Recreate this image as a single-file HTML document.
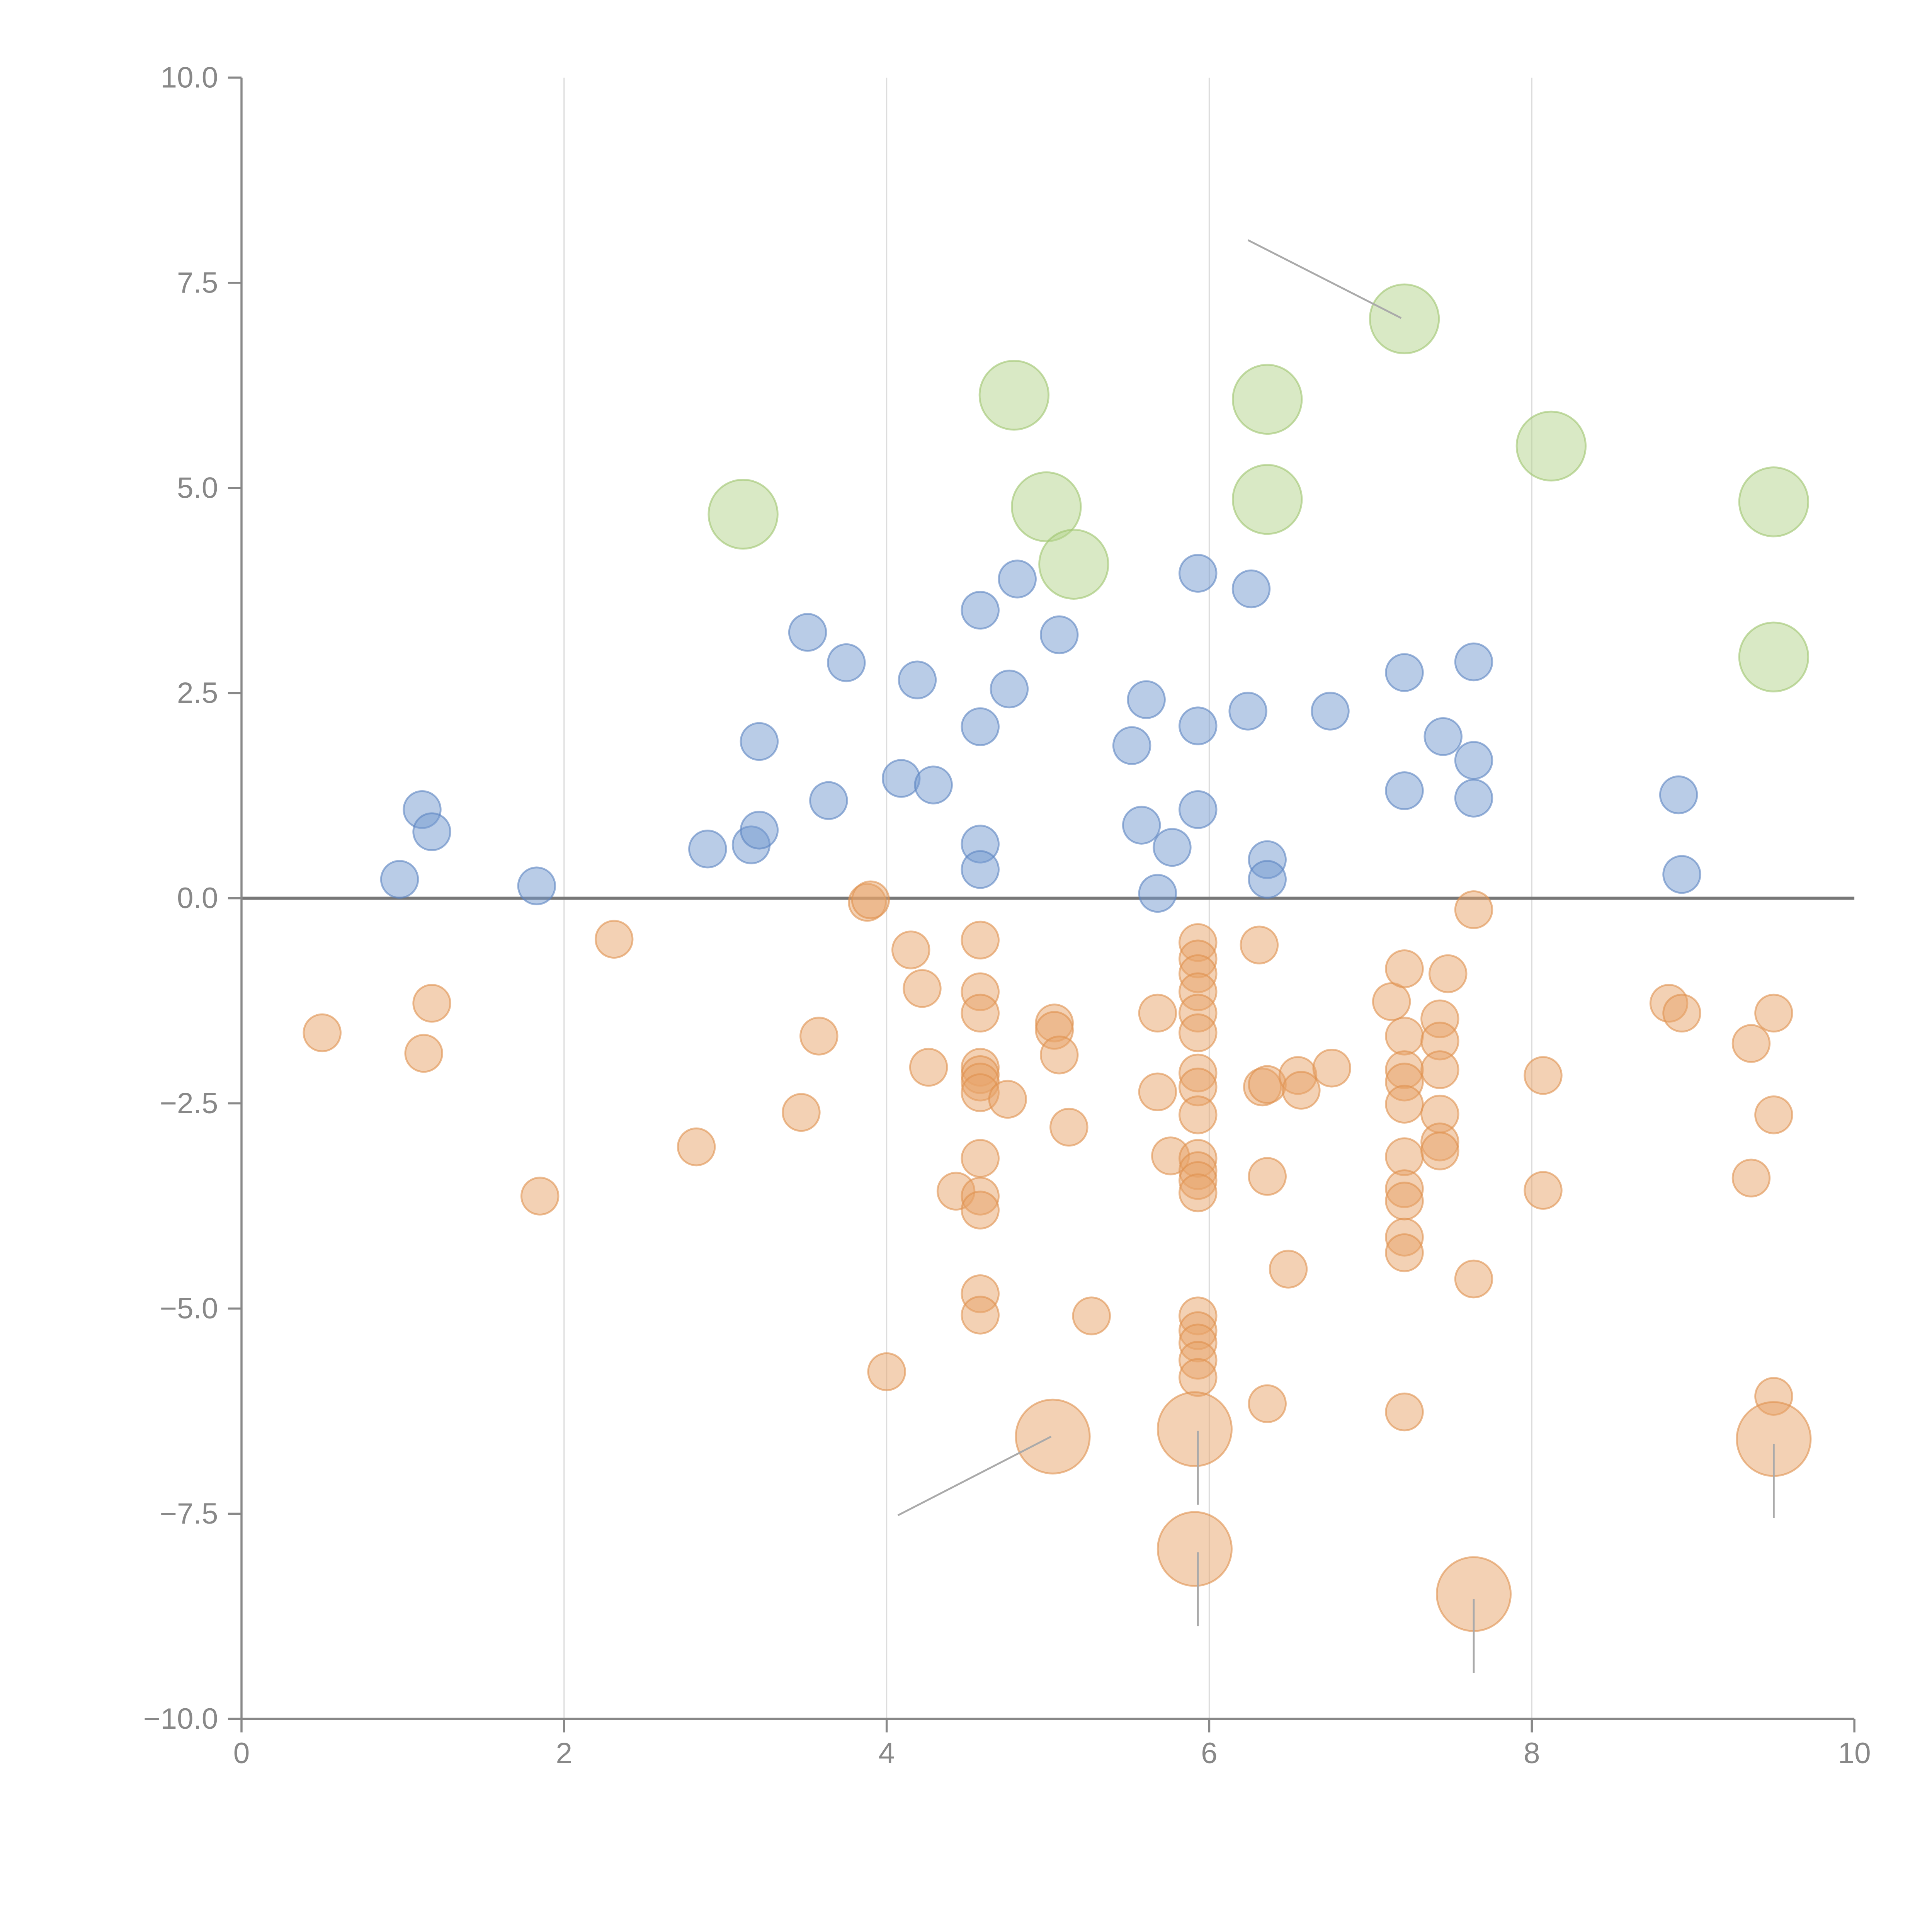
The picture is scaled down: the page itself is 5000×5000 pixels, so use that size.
<!DOCTYPE html>
<html><head><meta charset="utf-8"><style>html,body{margin:0;padding:0;background:#fff}svg{display:block}</style></head>
<body>
<svg id="chart" width="5000" height="5000" viewBox="0 0 1568 1568" xmlns="http://www.w3.org/2000/svg" font-family="Liberation Sans, sans-serif">
<g id="grid"></g>
<g id="axes"></g>
<g id="marks"></g>
</svg>
<script>
const xTicks=[0,2,4,6,8,10];
const yTicks=[10,7.5,5,2.5,0,-2.5,-5,-7.5,-10];
const yTickLabels=["10.0","7.5","5.0","2.5","0.0","\u22122.5","\u22125.0","\u22127.5","\u221210.0"];
const blueX=[0.98,1.12,1.18,1.83,2.89,3.16,3.21,3.21,3.51,3.64,3.75,4.09,4.19,4.29,4.58,4.58,4.58,4.58,4.76,4.81,5.07,5.52,5.58,5.61,5.68,5.77,5.93,5.93,5.93,6.24,6.26,6.36,6.36,6.75,7.21,7.21,7.45,7.64,7.64,7.64,8.91,8.93];
const blueY=[0.23,1.08,0.81,0.15,0.60,0.65,0.83,1.91,3.24,1.19,2.87,1.46,2.66,1.38,3.51,2.09,0.66,0.35,2.55,3.89,3.21,1.86,0.89,2.42,0.06,0.62,3.96,2.10,1.08,2.28,3.77,0.47,0.23,2.28,2.75,1.31,1.97,2.88,1.68,1.22,1.26,0.29];
const greenX=[3.11,4.79,4.99,5.16,6.36,6.36,7.21,8.12,9.50,9.50];
const greenY=[4.68,6.13,4.77,4.07,6.08,4.86,7.06,5.51,4.83,2.94];
const orangeX=[0.50,1.13,1.18,1.85,2.31,2.82,3.47,3.58,3.88,3.90,4.00,4.15,4.22,4.26,4.43,
4.58,4.58,4.58,4.58,4.58,4.58,4.58,4.58,4.58,4.58,4.58,4.58,
4.75,5.04,5.04,5.07,5.13,5.27,5.68,5.68,5.76,
5.93,5.93,5.93,5.93,5.93,5.93,5.93,5.93,5.93,5.93,5.93,5.93,5.93,5.93,5.93,5.93,5.93,5.93,
6.31,6.33,6.36,6.36,6.36,6.49,6.55,6.57,6.76,7.13,
7.21,7.21,7.21,7.21,7.21,7.21,7.21,7.21,7.21,7.21,7.21,
7.43,7.43,7.43,7.43,7.43,7.43,7.48,7.64,7.64,8.07,8.07,8.85,8.93,9.36,9.36,9.50,9.50,9.50];
const orangeY=[-1.64,-1.89,-1.28,-3.63,-0.50,-3.03,-2.61,-1.68,-0.05,-0.02,-5.77,-0.63,-1.10,-2.06,-3.57,
-0.51,-1.14,-1.40,-2.06,-2.15,-2.24,-2.37,-3.17,-3.63,-3.80,-4.82,-5.08,
-2.45,-1.52,-1.61,-1.91,-2.79,-5.09,-1.40,-2.36,-3.14,
-0.54,-0.74,-0.92,-1.14,-1.40,-1.64,-2.13,-2.30,-2.64,-3.17,-3.32,-3.44,-3.59,-5.09,-5.27,-5.42,-5.63,-5.84,
-0.57,-2.30,-2.27,-3.39,-6.16,-4.52,-2.16,-2.34,-2.07,-1.26,
-0.86,-1.68,-2.09,-2.24,-2.51,-3.15,-3.54,-3.69,-4.13,-4.32,-6.26,
-1.47,-1.74,-2.09,-2.63,-2.97,-3.08,-0.92,-0.14,-4.64,-2.16,-3.56,-1.28,-1.40,-1.77,-3.41,-1.40,-2.64,-6.07];
const bigOrangeX=[5.03,5.91,5.91,7.64,9.50];
const bigOrangeY=[-6.56,-6.47,-7.93,-8.48,-6.59];
const leaderX1=[6.24,4.07,5.93,5.93,7.64,9.50];
const leaderY1=[8.02,-7.52,-6.49,-7.97,-8.54,-6.65];
const leaderX2=[7.19,5.02,5.93,5.93,7.64,9.50];
const leaderY2=[7.07,-6.56,-7.39,-8.87,-9.44,-7.55];

const NS="http://www.w3.org/2000/svg";
const X=v=>196+(v-0)/10*1309;
const Y=v=>729-v/10*666;
function mk(t,p,a){const e=document.createElementNS(NS,t);for(const k in a)e.setAttribute(k,a[k]);p.appendChild(e);return e;}
const grid=document.getElementById('grid'),axes=document.getElementById('axes'),marks=document.getElementById('marks');
[2,4,6,8].forEach(v=>{const l=mk('line',grid,{x1:X(v),x2:X(v),y1:Y(10),y2:Y(-10),stroke:'#dddddd','stroke-width':1});

});
let z=mk('line',grid,{x1:X(0),x2:X(10),y1:Y(0),y2:Y(0),stroke:'#777','stroke-width':2.5});


let ya=mk('line',axes,{x1:X(0),x2:X(0),y1:Y(10),y2:Y(-10),stroke:'#888','stroke-width':1.7});


let xa=mk('line',axes,{x1:X(0),x2:X(10),y1:Y(-10),y2:Y(-10),stroke:'#888','stroke-width':1.7});


yTicks.forEach((v,i)=>{mk('line',axes,{x1:X(0)-11,x2:X(0),y1:Y(v),y2:Y(v),stroke:'#888','stroke-width':1.7});
const t=mk('text',axes,{x:X(0)-19,y:Y(v)+8,'text-anchor':'end','font-size':24,fill:'#888'});t.textContent=yTickLabels[i];

});
xTicks.forEach(v=>{mk('line',axes,{x1:X(v),x2:X(v),y1:Y(-10),y2:Y(-10)+11,stroke:'#888','stroke-width':1.7});
const t=mk('text',axes,{x:X(v),y:Y(-10)+36,'text-anchor':'middle','font-size':24,fill:'#888'});t.textContent=String(v);

});
function series(xs,ys,r,fill,stroke,name){xs.forEach((x,i)=>{const c=mk('circle',marks,{cx:X(x),cy:Y(ys[i]),r:r,fill:fill,'fill-opacity':0.5,stroke:stroke,'stroke-opacity':0.6,'stroke-width':1.5});

});}
series(blueX,blueY,15,'#7399cf','#5b84c2','blue-point');
series(orangeX,orangeY,15,'#e8a46a','#e0914f','orange-point');
series(greenX,greenY,28,'#b4d38c','#9fc46e','green-bubble');
series(bigOrangeX,bigOrangeY,30,'#e8a46a','#e0914f','orange-bubble');
leaderX1.forEach((x,i)=>{const l=mk('line',marks,{x1:X(x),y1:Y(leaderY1[i]),x2:X(leaderX2[i]),y2:Y(leaderY2[i]),stroke:'#aaa','stroke-width':1.5});

});
</script>
</body></html>
